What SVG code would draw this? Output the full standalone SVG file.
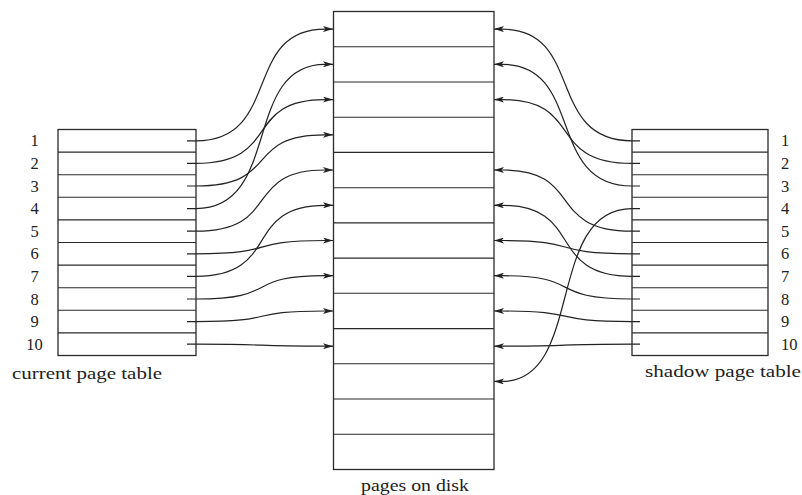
<svg xmlns="http://www.w3.org/2000/svg" width="802" height="495" viewBox="0 0 802 495">
<style>
.box{fill:#fff;stroke:#2a2a2a;stroke-width:1.3}
.div{stroke:#2a2a2a;stroke-width:1.1}
.c{fill:none;stroke:#222;stroke-width:1.2;marker-end:url(#ah)}
.num{font-family:"Liberation Serif","Times New Roman",serif;font-size:16.5px;fill:#222}
.cap{font-family:"Liberation Serif","Times New Roman",serif;font-size:17px;fill:#222}
</style>
<defs>
<marker id="ah" viewBox="0 0 10 6" refX="10" refY="3" markerWidth="10" markerHeight="6" orient="auto" markerUnits="userSpaceOnUse">
<path d="M0,0 L10,3 L0,6 L2.5,3 Z" fill="#222"/>
</marker>
</defs>
<rect width="802" height="495" fill="#fff"/>

<g id="current-page-table">
<rect class="box" x="58" y="129.5" width="138" height="226"/>
<g class="div">
<line x1="58" y1="152.1" x2="196" y2="152.1"/>
<line x1="58" y1="174.7" x2="196" y2="174.7"/>
<line x1="58" y1="197.3" x2="196" y2="197.3"/>
<line x1="58" y1="219.9" x2="196" y2="219.9"/>
<line x1="58" y1="242.5" x2="196" y2="242.5"/>
<line x1="58" y1="265.1" x2="196" y2="265.1"/>
<line x1="58" y1="287.7" x2="196" y2="287.7"/>
<line x1="58" y1="310.3" x2="196" y2="310.3"/>
<line x1="58" y1="332.9" x2="196" y2="332.9"/>
</g>
<g class="num" text-anchor="middle">
<text x="34.5" y="146.3">1</text>
<text x="34.5" y="168.9">2</text>
<text x="34.5" y="191.5">3</text>
<text x="34.5" y="214.1">4</text>
<text x="34.5" y="236.7">5</text>
<text x="34.5" y="259.3">6</text>
<text x="34.5" y="281.9">7</text>
<text x="34.5" y="304.5">8</text>
<text x="34.5" y="327.1">9</text>
<text x="34.5" y="349.7">10</text>
</g>
<text class="cap" x="12" y="379" textLength="150" lengthAdjust="spacingAndGlyphs">current page table</text>
</g>

<g id="pages-on-disk">
<rect class="box" x="333.5" y="11.5" width="160.5" height="458"/>
<g class="div">
<line x1="333.5" y1="46.7" x2="494" y2="46.7"/>
<line x1="333.5" y1="82" x2="494" y2="82"/>
<line x1="333.5" y1="117.2" x2="494" y2="117.2"/>
<line x1="333.5" y1="152.4" x2="494" y2="152.4"/>
<line x1="333.5" y1="187.7" x2="494" y2="187.7"/>
<line x1="333.5" y1="222.9" x2="494" y2="222.9"/>
<line x1="333.5" y1="258.1" x2="494" y2="258.1"/>
<line x1="333.5" y1="293.3" x2="494" y2="293.3"/>
<line x1="333.5" y1="328.6" x2="494" y2="328.6"/>
<line x1="333.5" y1="363.8" x2="494" y2="363.8"/>
<line x1="333.5" y1="399" x2="494" y2="399"/>
<line x1="333.5" y1="434.3" x2="494" y2="434.3"/>
</g>
<text class="cap" x="361" y="491" textLength="108" lengthAdjust="spacingAndGlyphs">pages on disk</text>
</g>

<g id="shadow-page-table">
<rect class="box" x="632" y="129.5" width="136" height="226"/>
<g class="div">
<line x1="632" y1="152.1" x2="768" y2="152.1"/>
<line x1="632" y1="174.7" x2="768" y2="174.7"/>
<line x1="632" y1="197.3" x2="768" y2="197.3"/>
<line x1="632" y1="219.9" x2="768" y2="219.9"/>
<line x1="632" y1="242.5" x2="768" y2="242.5"/>
<line x1="632" y1="265.1" x2="768" y2="265.1"/>
<line x1="632" y1="287.7" x2="768" y2="287.7"/>
<line x1="632" y1="310.3" x2="768" y2="310.3"/>
<line x1="632" y1="332.9" x2="768" y2="332.9"/>
</g>
<g class="num">
<text x="781" y="146.3">1</text>
<text x="781" y="168.9">2</text>
<text x="781" y="191.5">3</text>
<text x="781" y="214.1">4</text>
<text x="781" y="236.7">5</text>
<text x="781" y="259.3">6</text>
<text x="781" y="281.9">7</text>
<text x="781" y="304.5">8</text>
<text x="781" y="327.1">9</text>
<text x="781" y="349.7">10</text>
</g>
<text class="cap" x="645" y="377" textLength="156" lengthAdjust="spacingAndGlyphs">shadow page table</text>
</g>

<g id="connectors">
<path class="c" d="M187,140.8 H196 C282,140.8 242,29.1 325,29.1 H333"/>
<path class="c" d="M187,163.4 H196 C282,163.4 242,99.6 325,99.6 H333"/>
<path class="c" d="M187,186 H196 C282,186 242,134.8 325,134.8 H333"/>
<path class="c" d="M187,208.6 H196 C282,208.6 242,64.3 325,64.3 H333"/>
<path class="c" d="M187,231.2 H196 C282,231.2 242,170 325,170 H333"/>
<path class="c" d="M187,253.8 H196 C282,253.8 242,240.5 325,240.5 H333"/>
<path class="c" d="M187,276.4 H196 C282,276.4 242,205.3 325,205.3 H333"/>
<path class="c" d="M187,299 H196 C282,299 242,275.7 325,275.7 H333"/>
<path class="c" d="M187,321.6 H196 C282,321.6 242,311 325,311 H333"/>
<path class="c" d="M187,344.2 H196 C282,344.2 242,346.2 325,346.2 H333"/>

<path class="c" d="M640,140.8 H632 C545,140.8 585,29.1 502,29.1 H494"/>
<path class="c" d="M640,163.4 H632 C545,163.4 585,99.6 502,99.6 H494"/>
<path class="c" d="M640,186 H632 C545,186 585,64.3 502,64.3 H494"/>
<path class="c" d="M640,208.6 H632 C545,208.6 585,381.4 502,381.4 H494"/>
<path class="c" d="M640,231.2 H632 C545,231.2 585,170 502,170 H494"/>
<path class="c" d="M640,253.8 H632 C545,253.8 585,240.5 502,240.5 H494"/>
<path class="c" d="M640,276.4 H632 C545,276.4 585,205.3 502,205.3 H494"/>
<path class="c" d="M640,299 H632 C545,299 585,275.7 502,275.7 H494"/>
<path class="c" d="M640,321.6 H632 C545,321.6 585,311 502,311 H494"/>
<path class="c" d="M640,344.2 H632 C545,344.2 585,346.2 502,346.2 H494"/>
</g>
</svg>
